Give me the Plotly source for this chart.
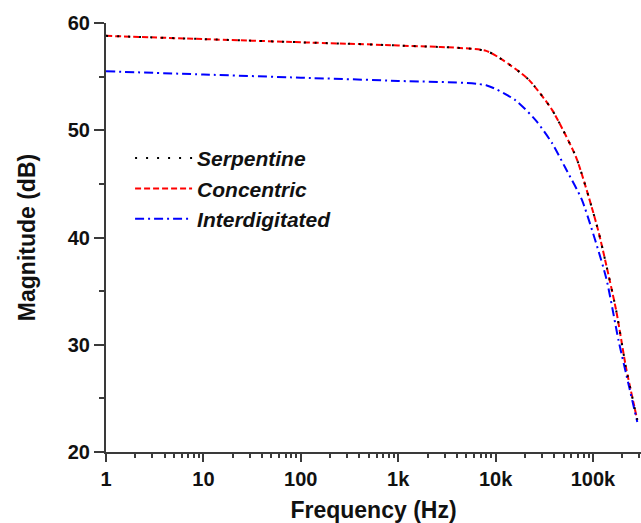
import plotly.graph_objects as go

freq_sc = [1, 10, 100, 1000, 8000, 14000, 22000, 38000, 67000, 91000, 115000, 173000, 218000, 285000]
serpentine = [58.8, 58.5, 58.2, 57.9, 57.4, 56.1, 54.7, 51.9, 47.5, 43.7, 40.4, 33.2, 27.9, 23.0]
concentric = [58.8, 58.5, 58.2, 57.9, 57.4, 56.1, 54.7, 51.9, 47.5, 43.7, 40.4, 33.2, 27.9, 23.0]

freq_i = [1, 10, 100, 1000, 8000, 16000, 26000, 38000, 52000, 77000, 136000, 183000, 236000, 285000]
interdigitated = [55.5, 55.2, 54.9, 54.6, 54.2, 52.8, 50.9, 48.8, 46.5, 43.5, 36.3, 30.4, 26.0, 22.8]

x_tickvals = [1, 10, 100, 1000, 10000, 100000]
x_ticktext = ["1", "10", "100", "1k", "10k", "100k"]
y_tickvals = [20, 30, 40, 50, 60]
y_minor = [25, 35, 45, 55]

x_minor = [m * 10 ** d for d in range(0, 6) for m in range(2, 10) if m * 10 ** d <= 300000]

fig = go.Figure()
fig.add_trace(go.Scatter(x=freq_sc, y=concentric, name="Concentric", mode="lines",
                         line=dict(color="#ff0000", dash="6px,3px", width=2, shape="spline", smoothing=0.6),
                         legendrank=2))
fig.add_trace(go.Scatter(x=freq_i, y=interdigitated, name="Interdigitated", mode="lines",
                         line=dict(color="#0000ff", dash="9px,4px,2px,4px", width=2, shape="spline", smoothing=0.6),
                         legendrank=3))
fig.add_trace(go.Scatter(x=freq_sc, y=serpentine, name="Serpentine", mode="lines",
                         line=dict(color="#000000", dash="2px,9px", width=2, shape="spline", smoothing=0.6),
                         legendrank=1))

font_family = "Liberation Sans, Arial, sans-serif"
axis_color = "#3a3a3a"
fig.update_layout(
    width=641, height=523,
    margin=dict(l=106, r=0, t=23, b=71),
    plot_bgcolor="white", paper_bgcolor="white",
    font=dict(family=font_family, color="#111"),
    showlegend=True,
    legend=dict(x=0.045, y=0.732, xanchor="left", yanchor="top",
                bgcolor="rgba(0,0,0,0)", itemwidth=57, tracegroupgap=0,
                font=dict(size=21, family=font_family, weight="bold", style="italic", color="#111")),
    xaxis=dict(type="log", range=[0, 5.493], showgrid=False, zeroline=False, automargin=False,
               showline=True, linecolor=axis_color, linewidth=2,
               tickmode="array", tickvals=x_tickvals, ticktext=x_ticktext,
               ticks="outside", ticklen=8, tickwidth=2, tickcolor=axis_color,
               tickfont=dict(size=20, weight="bold", color="#111"),
               minor=dict(tickmode="array", tickvals=x_minor, ticks="outside", ticklen=4,
                          tickwidth=1.5, tickcolor=axis_color, showgrid=False),
               title=dict(text="Frequency (Hz)", font=dict(size=23, weight="bold", color="#111"), standoff=16)),
    yaxis=dict(range=[20, 60], showgrid=False, zeroline=False, automargin=False,
               showline=True, linecolor=axis_color, linewidth=2,
               tickmode="array", tickvals=y_tickvals,
               ticks="outside", ticklen=10, tickwidth=2, tickcolor=axis_color,
               tickfont=dict(size=20, weight="bold", color="#111"),
               minor=dict(tickmode="array", tickvals=y_minor, ticks="outside", ticklen=5,
                          tickwidth=1.5, tickcolor=axis_color, showgrid=False),
               title=dict(text="Magnitude (dB)", font=dict(size=23, weight="bold", color="#111"), standoff=26)),
)

fig.write_html("out.html", config={"displayModeBar": False},
               post_script="document.body.style.margin='0';document.body.style.overflow='hidden';")
